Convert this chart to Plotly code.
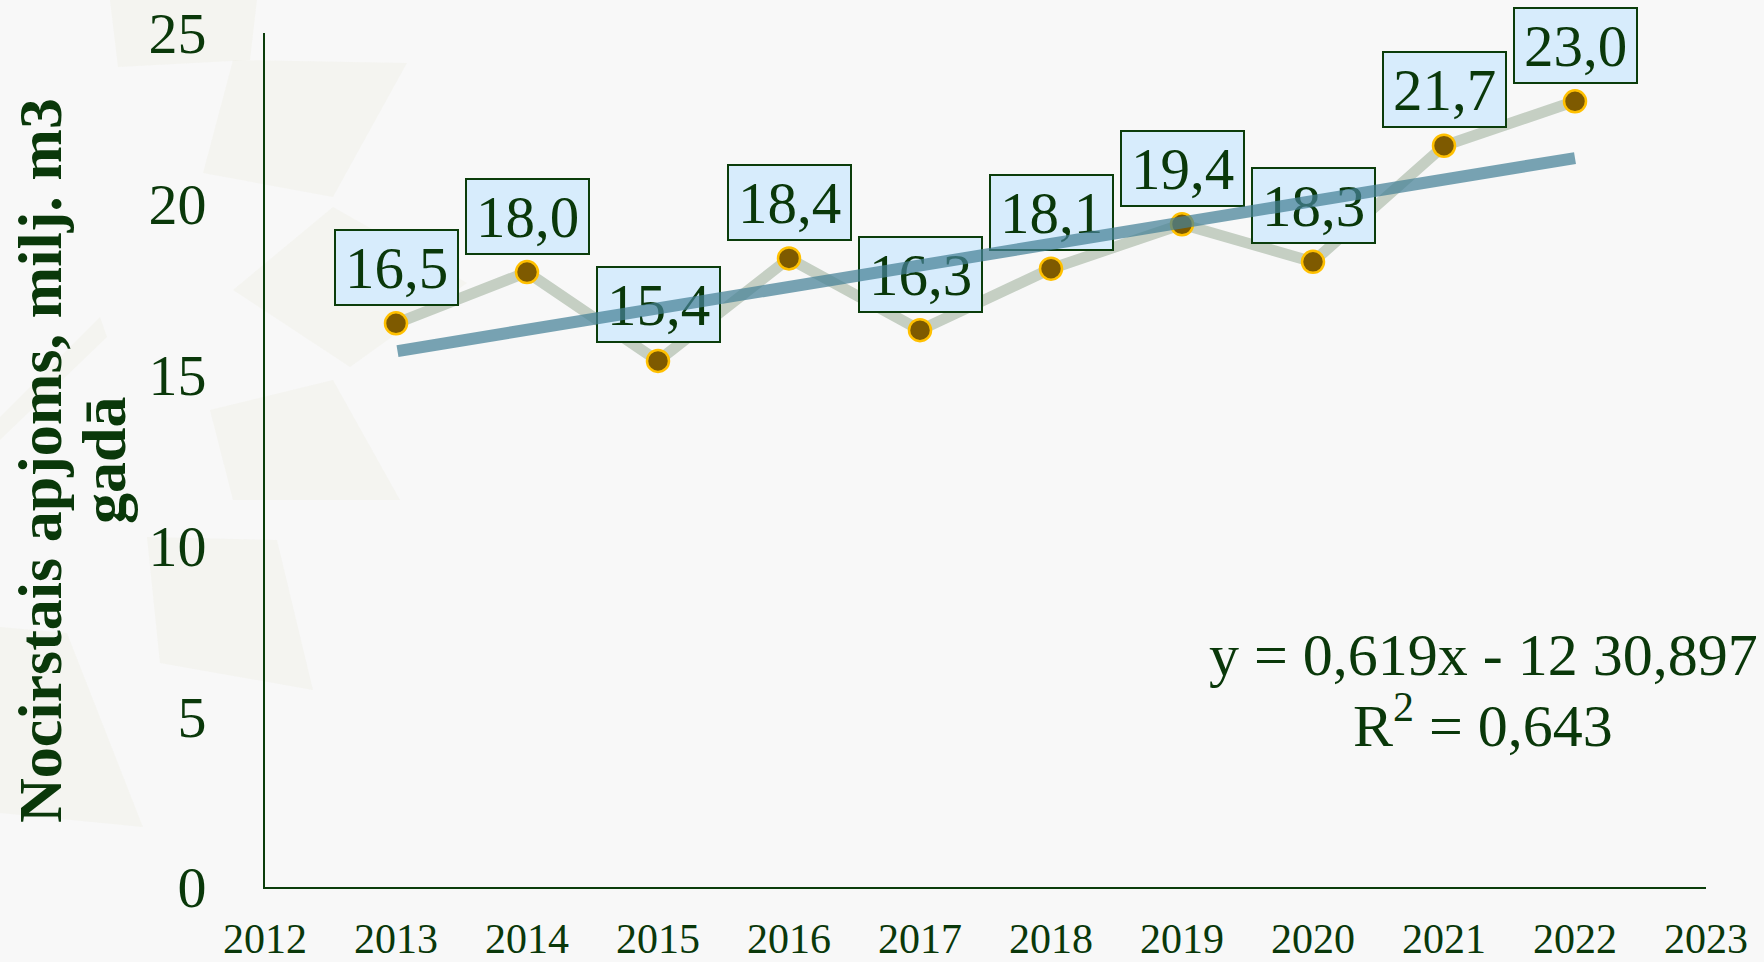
import numpy as np
import plotly.graph_objects as go

# ---- data ----
years = [2013, 2014, 2015, 2016, 2017, 2018, 2019, 2020, 2021, 2022]
volumes = [16.5, 18.0, 15.4, 18.4, 16.3, 18.1, 19.4, 18.3, 21.7, 23.0]
value_labels = ["16,5", "18,0", "15,4", "18,4", "16,3", "18,1", "19,4", "18,3", "21,7", "23,0"]
x_ticks = list(range(2012, 2024))
y_ticks = [0, 5, 10, 15, 20, 25]
equation_line1 = "y = 0,619x - 12 30,897"
equation_line2 = "R<sup>2</sup> = 0,643"
y_title_line1 = "Nocirstais apjoms, milj. m3"
y_title_line2 = "gadā"

# ---- style ----
W, H = 1764, 962
L, R, T, B = 265, 58, 33, 75
PW, PH = W - L - R, H - T - B
DARK = "#0B3D0B"
TEXT = "#0A380A"
BG = "#F8F8F8"
FONT = "Liberation Serif, Times New Roman, serif"


def px(x):
    return (x - L) / PW


def py(y):
    return (H - B - y) / PH


fig = go.Figure()

fig.add_trace(go.Scatter(
    x=years, y=volumes, mode="lines+markers",
    line=dict(color="#C5CFC3", width=11),
    marker=dict(size=22, color="#7E5A00", line=dict(color="#FFC000", width=2.5)),
    hoverinfo="skip", showlegend=False,
))

shapes = []
# faint decorative background polygons
polys = [
    [(110, 0), (257, 0), (250, 60), (118, 67)],
    [(233, 60), (407, 63), (333, 197), (203, 173)],
    [(233, 290), (333, 207), (467, 283), (350, 367)],
    [(210, 410), (333, 380), (400, 500), (233, 500)],
    [(147, 537), (277, 540), (313, 690), (160, 663)],
    [(0, 627), (67, 633), (143, 827), (0, 813)],
    [(0, 417), (100, 317), (107, 337), (0, 440)],
]
for poly in polys:
    path = "M " + " L ".join(f"{px(a):.4f},{py(b):.4f}" for a, b in poly) + " Z"
    shapes.append(dict(type="path", xref="paper", yref="paper", path=path,
                       fillcolor="#ECECE0", opacity=0.32, line=dict(width=0), layer="below"))

annotations = []
# data label boxes anchored to the data points
for xv, yv, lab in zip(years, volumes, value_labels):
    annotations.append(dict(
        x=xv, y=yv, xref="x", yref="y", text=lab, showarrow=False,
        yshift=56, xshift=0, width=121, height=73,
        bgcolor="#D7ECFC", bordercolor=DARK, borderwidth=2, borderpad=0,
        xanchor="center", yanchor="middle", valign="middle", align="center",
        font=dict(family=FONT, size=59, color=TEXT),
    ))

# linear trend line (least squares fit of the data), drawn above the label boxes
slope, intercept = np.polyfit(years, volumes, 1)
annotations.append(dict(
    x=years[-1], y=slope * years[-1] + intercept, xref="x", yref="y",
    ax=years[0], ay=slope * years[0] + intercept, axref="x", ayref="y",
    text="", showarrow=True, arrowhead=0, arrowwidth=12,
    arrowcolor="rgba(70,130,152,0.72)", standoff=0, startstandoff=0,
))

annotations += [
    dict(text=equation_line1, xref="paper", yref="paper", x=px(1483), y=py(655),
         xanchor="center", yanchor="middle", showarrow=False,
         font=dict(family=FONT, size=60, color=TEXT)),
    dict(text=equation_line2, xref="paper", yref="paper", x=px(1483), y=py(721),
         xanchor="center", yanchor="middle", showarrow=False,
         font=dict(family=FONT, size=60, color=TEXT)),
    dict(text=f"<b>{y_title_line1}</b>", xref="paper", yref="paper", x=px(40), y=py(461),
         xanchor="center", yanchor="middle", showarrow=False, textangle=-90,
         font=dict(family=FONT, size=62, color=TEXT)),
    dict(text=f"<b>{y_title_line2}</b>", xref="paper", yref="paper", x=px(104), y=py(461),
         xanchor="center", yanchor="middle", showarrow=False, textangle=-90,
         font=dict(family=FONT, size=62, color=TEXT)),
]

fig.update_layout(
    width=W, height=H,
    margin=dict(l=L, r=R, t=T, b=B, autoexpand=False),
    paper_bgcolor=BG, plot_bgcolor="rgba(0,0,0,0)",
    shapes=shapes, annotations=annotations,
    showlegend=False,
)
fig.update_xaxes(
    range=[2012, 2023], tickmode="array", tickvals=x_ticks,
    ticktext=[str(v) for v in x_ticks],
    showgrid=False, zeroline=False, showline=True, linecolor=DARK, linewidth=2,
    ticks="", ticklabelstandoff=14,
    tickfont=dict(family=FONT, size=42, color=TEXT),
)
fig.update_yaxes(
    range=[0, 25], tickmode="array", tickvals=y_ticks,
    showgrid=False, zeroline=False, showline=True, linecolor=DARK, linewidth=2,
    ticks="", ticklabelstandoff=45,
    tickfont=dict(family=FONT, size=58, color=TEXT),
)

fig.write_html(
    "out.html",
    config={"displayModeBar": False},
    post_script="document.body.style.margin='0';document.body.style.background='%s';" % BG,
)
